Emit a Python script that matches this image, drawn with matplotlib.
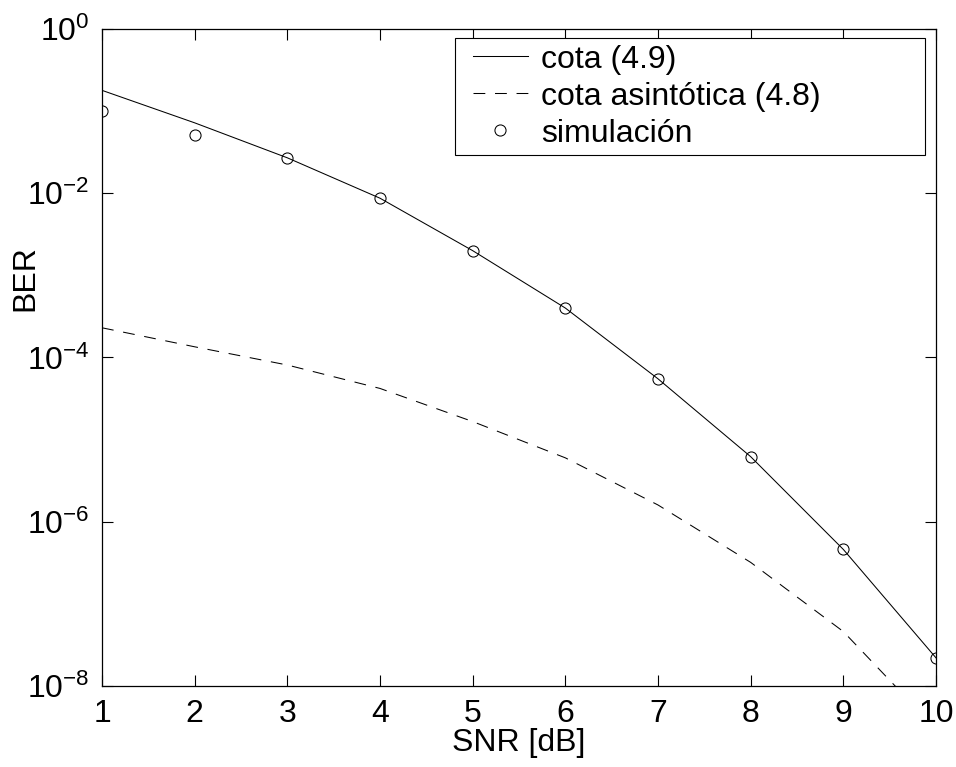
import numpy as np
import matplotlib
matplotlib.use("Agg")
import matplotlib.pyplot as plt
from matplotlib.legend_handler import HandlerLine2D
from matplotlib.ticker import FixedLocator, FuncFormatter, NullLocator

plt.rcParams["font.family"] = ["Liberation Sans", "DejaVu Sans"]
plt.rcParams["mathtext.default"] = "regular"
plt.rcParams["lines.scale_dashes"] = False

# SNR points and BER curves
snr = [1, 2, 3, 4, 5, 6, 7, 8, 9, 10]
ber_cota = [1.79e-1, 7.2e-2, 2.7e-2, 8.7e-3, 2.0e-3, 4.0e-4, 5.5e-5, 6.2e-6, 4.6e-7, 2.2e-8]
ber_asint = [2.3e-4, 1.35e-4, 8.1e-5, 4.2e-5, 1.66e-5, 6.0e-6, 1.6e-6, 3.2e-7, 4.6e-8, 3.0e-9]
ber_sim = [1.0e-1, 5.1e-2, 2.7e-2, 8.7e-3, 2.0e-3, 4.0e-4, 5.5e-5, 6.2e-6, 4.6e-7, 2.2e-8]

labels = ["cota (4.9)", "cota asintótica (4.8)", "simulación"]
ytick_vals = [1e0, 1e-2, 1e-4, 1e-6, 1e-8]

FS = 23

fig = plt.figure(figsize=(9.56, 7.67), dpi=100)
ax = fig.add_axes([0.1067, 0.1056, 0.8724, 0.8566])

ax.semilogy(snr, ber_cota, color="black", lw=0.75, label=labels[0])
ax.semilogy(snr, ber_asint, color="black", lw=0.75, linestyle=(0, (8.5, 7)),
            label=labels[1])
ax.semilogy(snr, ber_sim, linestyle="none", marker="o", markersize=8,
            markerfacecolor="none", markeredgecolor="black",
            markeredgewidth=0.75, label=labels[2])

ax.set_xlim(1, 10)
ax.set_ylim(1e-8, 1e0)
ax.set_xticks(snr)
ax.yaxis.set_major_locator(FixedLocator(ytick_vals))
ax.yaxis.set_minor_locator(NullLocator())
ax.yaxis.set_major_formatter(
    FuncFormatter(lambda v, pos: r"$10^{%d}$" % round(np.log10(v))))

ax.tick_params(direction="in", length=8, width=0.8, labelsize=FS,
               top=True, right=True, pad=9)
for sp in ax.spines.values():
    sp.set_linewidth(0.9)

ax.set_xlabel("SNR [dB]", fontsize=FS)
ax.xaxis.label.set_va("center")
ax.xaxis.set_label_coords(0.5, -0.087)
ax.set_ylabel("BER", fontsize=FS)
ax.yaxis.label.set_va("center")
ax.yaxis.set_label_coords(-0.092, 0.621)

# xpad indents the legend samples from the frame edge
handler = HandlerLine2D(xpad=0.36)
leg = ax.legend(loc="upper left", bbox_to_anchor=(0.423, 0.800, 0.5635, 0.186),
                mode="expand", fontsize=FS, frameon=True, fancybox=False,
                framealpha=1, edgecolor="black", handlelength=2.08,
                handletextpad=0.43, labelspacing=0.22, borderpad=0.2,
                borderaxespad=0,
                handler_map={plt.Line2D: handler})
leg.get_frame().set_linewidth(0.8)

fig.savefig("out.png", dpi=100)
